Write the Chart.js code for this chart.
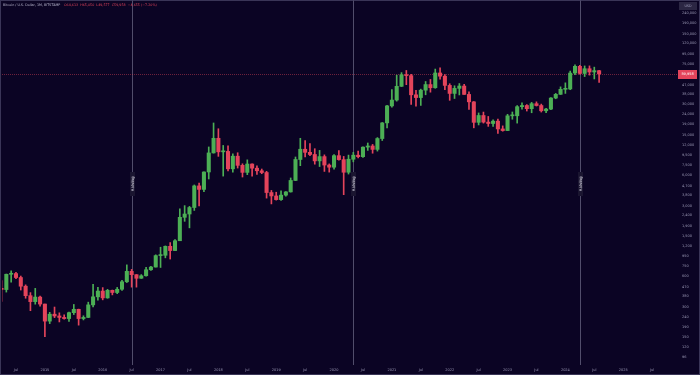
<!DOCTYPE html>
<html>
<head>
<meta charset="utf-8">
<script src="https://cdn.jsdelivr.net/npm/chart.js@4.4.1/dist/chart.umd.min.js"></script>
<style>
  html, body { margin: 0; padding: 0; background: #0b0424; }
  #wrap { width: 700px; height: 375px; }
</style>
</head>
<body>
<div id="wrap"><canvas id="btc" width="700" height="375"></canvas></div>
<script>
// monthly candles from Apr 2014 to Aug 2024, month index 0 = Jul 2014
const firstMonth = -3;

const opens = [
    458, 445, 630, 640, 585, 480, 387, 338, 375,
    320, 217, 254, 244, 236, 230, 263, 284, 230, 236, 314, 377,
    430, 368, 437, 416, 448, 531, 673, 624, 575, 609, 698, 742,
    963, 970, 1190, 1080, 1350, 2300, 2480, 2875, 4700, 4340, 6450, 9950,
    13880, 10200, 10300, 6930, 9240, 7500, 6390, 7730, 7030, 6630, 6370, 4040,
    3740, 3440, 3810, 4100, 5320, 8570, 10820, 10080, 9600, 8300, 9150, 7550,
    7190, 9350, 8540, 6410, 8620, 9450, 9140, 11350, 11650, 10780, 13800, 19700,
    28990, 33110, 45240, 58800, 57720, 37300, 35040, 41460, 47100, 43800, 61300, 57000,
    46200, 38480, 43190, 45540, 37640, 31790, 19940, 23300, 20050, 19420, 20490, 17170,
    16540, 23130, 23150, 28480, 29250, 27220, 30480, 29230, 25940, 26970, 34670, 37720,
    42280, 42580, 61180, 71330, 60640, 67530, 62700, 64613
];
const highs = [
    547, 633, 680, 660, 605, 495, 415, 457, 383,
    320, 265, 299, 262, 250, 267, 317, 285, 245, 334, 502, 468,
    465, 447, 440, 467, 550, 780, 704, 626, 625, 738, 754, 980,
    1165, 1200, 1295, 1385, 2790, 3000, 2950, 4800, 5000, 6470, 11400, 19666,
    17240, 11790, 11700, 9760, 9990, 7770, 8500, 7760, 7400, 6900, 6550, 4240,
    4070, 4190, 4140, 5630, 9070, 13880, 13200, 12330, 10950, 10540, 9520, 7750,
    9580, 10500, 9190, 9470, 10070, 10380, 11440, 12470, 12070, 14100, 19860, 29300,
    41950, 58350, 61780, 64900, 59500, 41300, 42450, 50500, 52900, 67000, 69000, 59100,
    47990, 45800, 48200, 47450, 40000, 31990, 24700, 25200, 22800, 21100, 21450, 18400,
    23950, 25250, 29200, 31000, 29850, 31400, 31800, 30200, 27500, 35000, 38500, 44700,
    48970, 64000, 73800, 72800, 71950, 72000, 70000, 65050
];
const lows = [
    340, 420, 525, 570, 440, 365, 275, 319, 305,
    152, 205, 235, 213, 227, 215, 252, 198, 223, 235, 300, 350,
    352, 365, 394, 405, 437, 522, 470, 470, 573, 604, 688, 742,
    735, 915, 890, 1080, 1350, 2100, 1810, 2690, 2980, 4110, 5500, 9900,
    9200, 5873, 6600, 6430, 7050, 5750, 6070, 5880, 6100, 6200, 3560, 3120,
    3400, 3370, 3730, 4080, 5300, 7440, 9100, 9320, 7700, 7300, 6530, 6430,
    6860, 8420, 3850, 6150, 8120, 8900, 8990, 10540, 9880, 10370, 13200, 17570,
    28130, 32300, 45000, 47000, 30000, 28800, 29300, 37330, 39600, 43300, 53300, 42000,
    32900, 34300, 37200, 37600, 26700, 17600, 18800, 19600, 18200, 18200, 15480, 16300,
    16500, 21400, 19600, 26950, 25800, 24800, 28900, 25200, 24900, 26550, 34100, 37600,
    38500, 41900, 59100, 59600, 56500, 58400, 53500, 49577
];
const closes = [
    445, 630, 640, 585, 480, 387, 338, 375, 320,
    217, 254, 244, 236, 230, 263, 284, 230, 236, 314, 377, 430,
    368, 437, 416, 448, 531, 673, 624, 575, 609, 698, 742, 963,
    970, 1190, 1080, 1350, 2300, 2480, 2875, 4700, 4340, 6450, 9950, 13880,
    10200, 10300, 6930, 9240, 7500, 6390, 7730, 7030, 6630, 6370, 4040, 3740,
    3440, 3810, 4100, 5320, 8570, 10820, 10080, 9600, 8300, 9150, 7550, 7190,
    9350, 8540, 6410, 8620, 9450, 9140, 11350, 11650, 10780, 13800, 19700, 28990,
    33110, 45240, 58800, 57720, 37300, 35040, 41460, 47100, 43800, 61300, 57000, 46200,
    38480, 43190, 45540, 37640, 31790, 19940, 23300, 20050, 19420, 20490, 17170, 16540,
    23130, 23150, 28480, 29250, 27220, 30480, 29230, 25940, 26970, 34670, 37720, 42280,
    42580, 61180, 71330, 60640, 67530, 62700, 64620, 59958
];

const halvings = [24, 70, 117];   // Jul 2016, May 2020, Apr 2024

const xTickLabels = ['Jul', '2015', 'Jul', '2016', 'Jul', '2017', 'Jul', '2018', 'Jul', '2019',
    'Jul', '2020', 'Jul', '2021', 'Jul', '2022', 'Jul', '2023', 'Jul', '2024', 'Jul', '2025', 'Jul'];
const priceTicks = [96, 120, 150, 190, 240, 300, 380, 470, 600, 750, 950, 1200, 1500, 1900,
    2400, 3000, 3800, 4700, 6000, 7500, 9500, 12000, 15000, 19000, 24000, 30000, 38000,
    47000, 75000, 95000, 120000, 150000, 190000, 240000];

const legendTitle = 'Bitcoin / U.S. Dollar, 1M, BITSTAMP';
const legendValues = 'O64,613  H65,050  L49,577  C59,958  \u22124,655 (\u22127.20%)';

const GREEN = '#4caf55';
const RED = '#e4445b';
const BG = '#0b0424';
const TXT = 'rgba(178,176,204,0.85)';

const months = opens.map((_, i) => firstMonth + i);
const candleColor = i => closes[i] >= opens[i] ? GREEN : RED;
const lastClose = closes[closes.length - 1];
const fmt = v => Math.round(v).toLocaleString('en-US');

const overlay = {
    id: 'overlay',
    beforeDraw(chart) {
        const c = chart.ctx;
        c.save();
        c.fillStyle = BG;
        c.fillRect(0, 0, chart.width, chart.height);
        c.restore();
    },
    beforeDatasetsDraw(chart) {
        const c = chart.ctx, a = chart.chartArea, x = chart.scales.x, y = chart.scales.y;
        c.save();
        c.strokeStyle = 'rgba(140,138,165,0.55)';
        c.lineWidth = 1;
        halvings.forEach(h => {
            const px = Math.round(x.getPixelForValue(h)) + 0.5;
            c.beginPath();
            c.moveTo(px, 0);
            c.lineTo(px, a.bottom);
            c.stroke();
        });
        // last price line
        const py = Math.round(y.getPixelForValue(lastClose)) + 0.5;
        c.strokeStyle = 'rgba(228,68,91,0.45)';
        c.setLineDash([1, 1]);
        c.beginPath();
        c.moveTo(a.left, py);
        c.lineTo(678, py);
        c.stroke();
        c.restore();
    },
    afterDraw(chart) {
        const c = chart.ctx, x = chart.scales.x, y = chart.scales.y;
        c.save();
        // halving labels
        halvings.forEach(h => {
            const px = Math.round(x.getPixelForValue(h)) + 0.5;
            c.save();
            c.translate(px, 184);
            c.rotate(-Math.PI / 2);
            c.fillStyle = '#1a1530';
            c.fillRect(-12, -2.5, 24, 5);
            c.fillStyle = '#e8e6f2';
            c.font = '4px "DejaVu Sans"';
            c.textAlign = 'center';
            c.textBaseline = 'middle';
            c.fillText('Halving', 0, 0.2);
            c.restore();
        });
        // legend
        c.font = '3.3px "DejaVu Sans"';
        c.textBaseline = 'middle';
        c.textAlign = 'left';
        c.fillStyle = 'rgba(200,198,220,0.9)';
        c.fillText(legendTitle, 3, 5);
        c.fillStyle = RED;
        c.fillText(legendValues, 64, 5);
        // USD box
        c.fillStyle = '#2b2643';
        c.fillRect(679, 2, 18, 8);
        c.fillStyle = TXT;
        c.textAlign = 'center';
        c.fillText('USD', 688, 6);
        // price label
        const py = Math.round(y.getPixelForValue(lastClose));
        c.fillStyle = RED;
        c.fillRect(678, py - 4, 19, 9);
        c.fillStyle = '#ffffff';
        c.font = '3.5px "DejaVu Sans"';
        c.fillText(fmt(lastClose), 687.5, py + 0.5);
        // frame
        c.strokeStyle = 'rgba(70,66,100,0.8)';
        c.lineWidth = 1;
        c.strokeRect(0.5, 0.5, chart.width - 1, chart.height - 1);
        c.restore();
    }
};

new Chart(document.getElementById('btc'), {
    type: 'bar',
    data: {
        datasets: [
            {
                label: 'wick',
                data: months.map((m, i) => ({ x: m, y: [lows[i], highs[i]] })),
                backgroundColor: months.map((_, i) => candleColor(i)),
                barThickness: 1,
                grouped: false,
                order: 2
            },
            {
                label: 'body',
                data: months.map((m, i) => ({ x: m, y: [opens[i], closes[i]] })),
                backgroundColor: months.map((_, i) => candleColor(i)),
                barThickness: 3.4,
                minBarLength: 1,
                grouped: false,
                order: 1
            }
        ]
    },
    options: {
        responsive: false,
        animation: false,
        devicePixelRatio: 1,
        layout: { padding: { top: 3, left: 2, right: 0, bottom: 0 } },
        plugins: { legend: { display: false }, tooltip: { enabled: false } },
        scales: {
            x: {
                type: 'linear',
                offset: false,
                min: -2.9,
                max: 138.2,
                grid: { display: false, drawTicks: false },
                border: { display: false },
                afterBuildTicks: s => { s.ticks = xTickLabels.map((_, i) => ({ value: i * 6 })); },
                afterFit: s => { s.height = 10; },
                ticks: {
                    autoSkip: false,
                    maxRotation: 0,
                    padding: 3,
                    color: TXT,
                    font: { family: 'DejaVu Sans', size: 3.5 },
                    callback: v => xTickLabels[Math.round(v / 6)]
                }
            },
            y: {
                type: 'logarithmic',
                position: 'right',
                min: 80,
                max: 301000,
                grid: { display: false, drawTicks: false },
                border: { display: false },
                afterBuildTicks: s => { s.ticks = priceTicks.map(v => ({ value: v })); },
                afterFit: s => { s.width = 18; },
                ticks: {
                    autoSkip: false,
                    padding: 0,
                    color: TXT,
                    font: { family: 'DejaVu Sans', size: 3.5 },
                    callback: v => fmt(v)
                }
            }
        }
    },
    plugins: [overlay]
});
</script>
</body>
</html>
